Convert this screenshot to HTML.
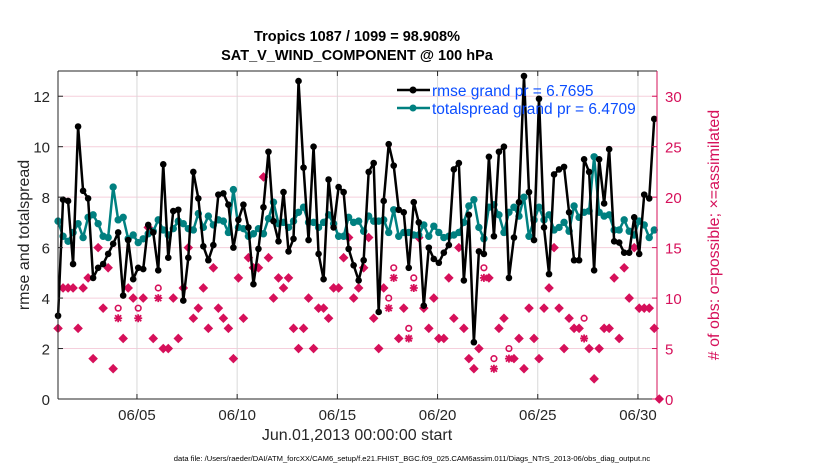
<!DOCTYPE html>
<html><head><meta charset="utf-8"><style>
body{margin:0;background:#fff;}
svg{display:block;font-family:"Liberation Sans",sans-serif;}
</style></head><body>
<svg id="chart" width="830" height="470" xmlns="http://www.w3.org/2000/svg"></svg>
<script>
const rmse=[3.3,7.9,7.85,5.35,10.8,8.25,7.95,4.8,5.2,5.35,5.75,6.15,6.6,4.1,6.3,4.75,5.2,5.15,6.9,6.6,5.1,9.3,5.6,7.45,7.5,3.9,5.6,9.0,7.95,6.05,5.5,6.1,8.1,8.15,7.7,6.0,7.1,7.7,6.8,4.55,5.95,7.6,9.8,7.05,6.25,8.2,5.85,6.35,12.6,9.17,6.3,10.0,5.75,4.75,8.7,6.8,8.4,8.2,5.95,5.3,4.7,5.5,9.0,9.35,3.45,7.85,10.1,9.25,7.5,7.4,5.2,7.8,7.0,3.7,6.0,5.55,5.4,5.8,6.1,9.1,9.35,4.7,7.3,2.25,5.85,5.75,9.6,6.45,9.8,10.0,4.8,6.4,7.8,12.8,8.2,6.3,11.9,6.8,4.95,8.9,9.1,9.2,7.4,5.5,5.5,9.5,9.0,5.1,9.5,7.75,9.9,6.25,6.2,5.8,5.8,7.2,5.75,8.1,7.95,11.1];
const spread=[7.05,6.45,6.25,6.6,6.95,6.4,7.2,7.3,6.95,6.45,6.4,8.4,7.1,7.2,6.35,6.5,6.2,6.35,6.55,6.65,7.1,6.7,6.5,6.75,7.05,6.95,6.75,6.7,7.35,6.8,7.25,6.9,7.1,7.05,6.6,8.3,6.8,6.75,6.45,6.55,6.75,6.55,7.15,7.8,6.95,7.0,6.8,7.05,7.4,7.6,7.0,7.0,6.8,7.0,7.3,6.95,6.45,6.45,7.2,7.0,7.05,6.65,7.25,7.05,7.05,7.1,6.6,7.5,6.45,6.6,6.6,6.5,6.5,6.9,6.45,6.85,6.6,6.4,6.45,6.5,6.6,7.0,7.65,7.9,6.8,6.35,7.6,7.7,7.3,6.6,7.4,7.6,7.25,8.0,6.45,7.1,7.6,7.1,7.3,6.7,6.8,7.0,6.65,7.65,7.2,7.4,7.45,9.6,7.4,7.25,7.3,6.7,6.7,7.1,6.65,6.5,7.05,6.9,6.4,6.7];
const nUsed=[7,11,11,11,7,11,12,4,15,9,13,3,8,6,11,10,8,10,17,6,10,5,5,10,6,11,15,8,9,11,7,13,9,8,7,4,12,8,14,13,13,22,14,10,12,11,12,7,5,7,10,5,9,9,8,11,11,14,16,10,11,13,16,8,5,11,9,12,6,9,6,11,16,9,7,10,6,6,12,8,15,7,4,3,5,12,12,3,7,8,4,4,6,3,9,6,4,9,11,15,9,5,8,7,7,6,5,2,5,7,7,12,6,13,10,15,9,9,9,7,0];
const nPoss=[7,11,11,11,7,11,12,4,15,9,13,3,9,6,11,10,9,10,17,6,11,5,5,10,6,11,15,8,9,11,7,13,9,8,7,4,12,8,14,13,13,22,14,10,12,11,12,7,5,7,10,5,9,9,8,11,11,14,16,10,11,13,16,8,5,11,10,13,6,9,7,12,16,9,7,10,6,6,12,8,15,7,4,3,5,13,12,4,7,8,5,4,6,3,9,6,4,9,11,15,9,5,8,7,7,8,5,2,5,7,7,12,6,13,10,15,9,9,9,7,0];
const xTicks=[5,10,15,20,25,30];
const xTickLabels=["06/05","06/10","06/15","06/20","06/25","06/30"];
const yTicks=[0,2,4,6,8,10,12];
const y2Ticks=[0,5,10,15,20,25,30];

const NS="http://www.w3.org/2000/svg";
const svg=document.getElementById('chart');
const L=58,R=657,T=71,B=399;
const D0=1.06,D1=30.95,YMAX=13,Y2MAX=32.5;
const xs=d=>L+(d-D0)/(D1-D0)*(R-L);
const ys=v=>B-v/YMAX*(B-T);
const y2s=v=>B-v/Y2MAX*(B-T);
const tDay=i=>1.0625+i*0.25;
function el(tag,attrs,parent){const e=document.createElementNS(NS,tag);for(const k in attrs)e.setAttribute(k,attrs[k]);(parent||svg).appendChild(e);return e;}
function txt(s,attrs,parent){const e=el('text',attrs,parent);e.textContent=s;return e;}

const grid=el('g',{});


y2Ticks.forEach(v=>{if(v>0)el('line',{x1:L,x2:R,y1:y2s(v),y2:y2s(v),stroke:'#f5cfdc','stroke-width':1},grid);});
xTicks.forEach(d=>el('line',{x1:xs(d),x2:xs(d),y1:T,y2:B,stroke:'#d8d8d8','stroke-width':1},grid));

const obs=el('g',{});


const red='#d6105a';
nUsed.forEach((u,i)=>{
  const x=xs(tDay(i)),yu=y2s(u),yp=y2s(nPoss[i]);
  if(nPoss[i]===u){
    const m=el('path',{d:`M${x},${yu-4.8}L${x+4.8},${yu}L${x},${yu+4.8}L${x-4.8},${yu}Z`,fill:red},obs);
    
    
  } else {
    const s=el('path',{d:`M${x-4},${yu}H${x+4}M${x},${yu-4}V${yu+4}M${x-3},${yu-3}L${x+3},${yu+3}M${x-3},${yu+3}L${x+3},${yu-3}`,stroke:red,'stroke-width':1.8},obs);
    
    
    const c=el('circle',{cx:x,cy:yp,r:2.8,fill:'none',stroke:red,'stroke-width':1.6},obs);
    
    
  }
});

function series(vals,color,name,r){
  const g=el('g',{});
  
  
  el('polyline',{points:vals.map((v,i)=>xs(tDay(i))+','+ys(v)).join(' '),fill:'none',stroke:color,'stroke-width':2.5,'stroke-linejoin':'round'},g);
  vals.forEach((v,i)=>el('circle',{cx:xs(tDay(i)),cy:ys(v),r:r,fill:color},g));
}
series(spread,'#008080','totalspread-series',3.7);
series(rmse,'#000000','rmse-series',3.3);

el('line',{x1:L,x2:R,y1:T,y2:T,stroke:'#262626','stroke-width':1});
el('line',{x1:L,x2:R,y1:B,y2:B,stroke:'#262626','stroke-width':1});
el('line',{x1:L,x2:L,y1:T,y2:B,stroke:'#262626','stroke-width':1});
el('line',{x1:R,x2:R,y1:T,y2:B,stroke:red,'stroke-width':1});

yTicks.forEach(v=>{
  el('line',{x1:L,x2:L+5,y1:ys(v),y2:ys(v),stroke:'#262626'});
  const t=txt(String(v),{x:L-8,y:ys(v)+6,'text-anchor':'end','font-size':15,fill:'#262626'});
  
  
});
y2Ticks.forEach(v=>{
  el('line',{x1:R,x2:R-5,y1:y2s(v),y2:y2s(v),stroke:red});
  const t=txt(String(v),{x:R+8,y:y2s(v)+6,'font-size':15,fill:red});
  
  
});
xTicks.forEach((d,k)=>{
  el('line',{x1:xs(d),x2:xs(d),y1:B,y2:B-5,stroke:'#262626'});
  el('line',{x1:xs(d),x2:xs(d),y1:T,y2:T+5,stroke:'#262626'});
  const t=txt(xTickLabels[k],{x:xs(d),y:B+21,'text-anchor':'middle','font-size':15,fill:'#262626'});
  
  
});
</script>
<svg width="830" height="470" style="position:absolute;left:0;top:0">
<g font-family="Liberation Sans, sans-serif">
<text x="357" y="41" text-anchor="middle" font-size="14.5" font-weight="bold" fill="#000">Tropics 1087 / 1099 = 98.908%</text>
<text x="357" y="60" text-anchor="middle" font-size="14.5" font-weight="bold" fill="#000">SAT_V_WIND_COMPONENT @ 100 hPa</text>
<text transform="translate(29,235) rotate(-90)" text-anchor="middle" font-size="16" fill="#262626">rmse and totalspread</text>
<text transform="translate(719,235) rotate(-90)" text-anchor="middle" font-size="16" fill="#d6105a"># of obs: o=possible; ×=assimilated</text>
<text x="357" y="440" text-anchor="middle" font-size="16" fill="#262626">Jun.01,2013 00:00:00 start</text>
<text x="412" y="461" text-anchor="middle" font-size="7.6" fill="#000">data file: /Users/raeder/DAI/ATM_forcXX/CAM6_setup/f.e21.FHIST_BGC.f09_025.CAM6assim.011/Diags_NTrS_2013-06/obs_diag_output.nc</text>
<g>
<line x1="397" x2="430" y1="90" y2="90" stroke="#000" stroke-width="2.5"/><circle cx="413" cy="90" r="3.5" fill="#000"/>
<text x="432" y="96" font-size="15.5" fill="#0b4dff">rmse grand pr = 6.7695</text>
<line x1="397" x2="430" y1="108" y2="108" stroke="#008080" stroke-width="2.5"/><circle cx="413" cy="108" r="3.5" fill="#008080"/>
<text x="432" y="114" font-size="15.5" fill="#0b4dff">totalspread grand pr = 6.4709</text>
</g>
</g>
</svg>
</body></html>
